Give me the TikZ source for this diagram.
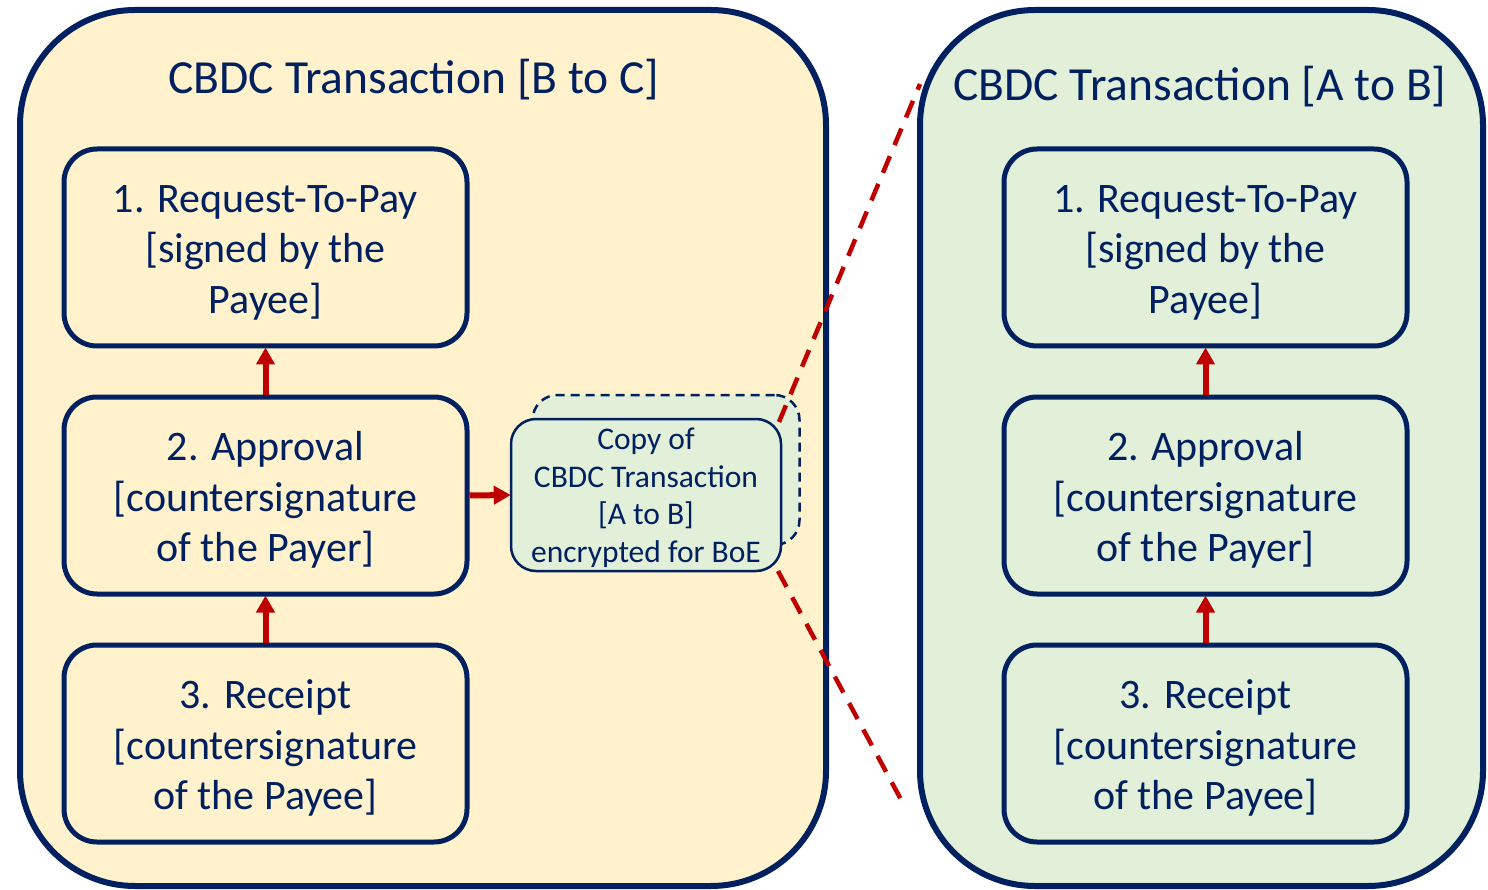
\documentclass[tikz,border=0pt]{standalone}
\usepackage{fontspec}
\setmainfont{Carlito}
\usetikzlibrary{arrows.meta}
\definecolor{navy}{HTML}{002060}
\definecolor{sand}{HTML}{FFF2CC}
\definecolor{sage}{HTML}{E2F0D9}
\definecolor{darkred}{HTML}{C00000}
% centred lines with fixed struts, so every box sets its text alike
\newcommand\steplines[3]{\rule{0pt}{43pt}#1\\\relax #2\\\relax #3\rule[-12pt]{0pt}{0pt}}
\newcommand\copylines[4]{\rule{0pt}{30pt}#1\\\relax #2\\\relax #3\\\relax #4\rule[-8pt]{0pt}{0pt}}
\tikzset{
  outerbox/.style={draw=navy, line width=6pt, rounded corners=115pt},
  stepbox/.style={draw=navy, line width=5pt, rounded corners=33pt,
    minimum width=403pt, minimum height=197pt, align=center, text=navy,
    font=\fontsize{42}{50.5}\selectfont, inner sep=0pt},
  copybox/.style={draw=navy, line width=2.5pt, rounded corners=25pt, fill=sage,
    minimum width=270pt, minimum height=152pt, align=center, text=navy,
    font=\fontsize{31.5}{37.7}\selectfont, inner sep=0pt},
  titletext/.style={text=navy, font=\fontsize{47.5}{55}\selectfont, inner sep=0pt},
  flow/.style={draw=darkred, line width=6pt,
    -{Triangle[length=17pt, width=18pt]}, shorten >=-1pt},
  zoomline/.style={draw=darkred, line width=4.5pt, dash pattern=on 18pt off 12pt}
}
\begin{document}
\begin{tikzpicture}[x=1pt, y=-1pt]
\useasboundingbox (0,0) rectangle (1488,890);

% the two transaction containers
\node[outerbox, fill=sand, minimum width=806pt, minimum height=876pt] (left) at (423,448) {};
\node[outerbox, fill=sage, minimum width=563pt, minimum height=876pt] (right) at (1201.5,448) {};

\node[titletext] (ltitle) at (414,80) {CBDC Transaction [B to C]};
\node[titletext] (rtitle) at (1200,87) {CBDC Transaction [A to B]};

% steps of the B to C transaction
\node[stepbox] (l1) at (265.5,247.5) {\steplines{1. Request-To-Pay}{[signed by the}{Payee]}};
\node[stepbox] (l2) at (265.5,495.5) {\steplines{2. Approval}{[countersignature}{of the Payer]}};
\node[stepbox] (l3) at (265.5,743.5) {\steplines{3. Receipt}{[countersignature}{of the Payee]}};

% steps of the A to B transaction
\node[stepbox] (r1) at (1205.5,247.5) {\steplines{1. Request-To-Pay}{[signed by the}{Payee]}};
\node[stepbox] (r2) at (1205.5,495.5) {\steplines{2. Approval}{[countersignature}{of the Payer]}};
\node[stepbox] (r3) at (1205.5,743.5) {\steplines{3. Receipt}{[countersignature}{of the Payee]}};

% encrypted copy, drawn as a stacked pair
\node[copybox, dashed, dash pattern=on 9pt off 6pt, minimum width=267pt, minimum height=150pt] (copyback) at (666,470) {};
\node[copybox] (copy) at (646,495) {\copylines{Copy of}{CBDC Transaction}{[A to B]}{encrypted for BoE}};

% flow arrows
\draw[flow] (l2.north) -- (l1.south);
\draw[flow] (l3.north) -- (l2.south);
\draw[flow] (r2.north) -- (r1.south);
\draw[flow] (r3.north) -- (r2.south);
\draw[flow] (l2.east) -- (copy.west);

% zoom lines from the copy to the expanded transaction
\coordinate (zt0) at (779,422);
\coordinate (zt1) at (920,84);
\coordinate (zb0) at (778,571);
\coordinate (zb1) at (905,807);
\draw[zoomline] (zt0) -- (zt1);
\draw[zoomline] (zb0) -- (zb1);
\end{tikzpicture}
\end{document}
